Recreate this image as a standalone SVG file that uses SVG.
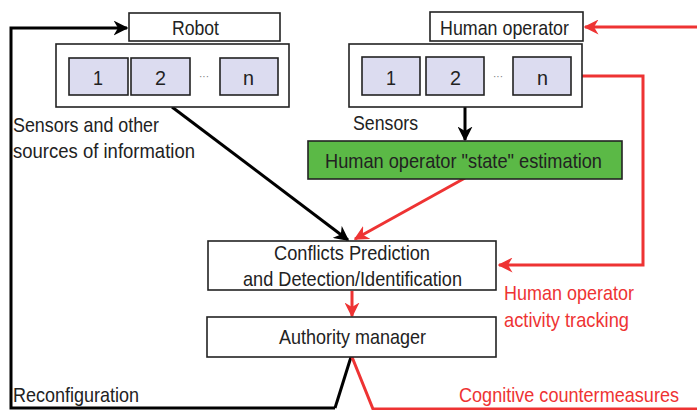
<svg xmlns="http://www.w3.org/2000/svg" width="697" height="410" viewBox="0 0 697 410">
<style>
text{font-family:"Liberation Sans",Arial,sans-serif;font-size:21px;fill:#222}
.red{fill:#ee3333}
.box{fill:#fff;stroke:#222;stroke-width:1.6}
.cell{fill:#dcdcf0;stroke:#222;stroke-width:1.6}
.k{fill:none;stroke:#000;stroke-width:3}
.r{fill:none;stroke:#ee3333;stroke-width:3}
.dots{font-size:10px;fill:#777}
</style>
<defs>
<marker id="ak" viewBox="0 0 10 10" refX="9" refY="5" markerWidth="5" markerHeight="5" orient="auto" markerUnits="strokeWidth"><path d="M0,0L10,5L0,10L3,5Z" fill="#000"/></marker>
<marker id="ar" viewBox="0 0 10 10" refX="9" refY="5" markerWidth="5" markerHeight="5" orient="auto" markerUnits="strokeWidth"><path d="M0,0L10,5L0,10L3,5Z" fill="#ee3333"/></marker>
</defs>
<g id="connectors">
<polyline class="k" points="335,408 11,408 11,28 127,28" marker-end="url(#ak)"/>
<line class="k" x1="351" y1="357" x2="335" y2="408"/>
<line class="k" x1="172" y1="107" x2="348" y2="240" marker-end="url(#ak)"/>
<line class="k" x1="465" y1="107" x2="465" y2="140" marker-end="url(#ak)"/>
<line class="r" x1="465" y1="178" x2="355" y2="239" marker-end="url(#ar)"/>
<line class="r" x1="352" y1="291" x2="352" y2="316" marker-end="url(#ar)"/>
<line class="r" x1="697" y1="27" x2="585" y2="27" marker-end="url(#ar)"/>
<polyline class="r" points="571,76 643,76 643,265 499,265" marker-end="url(#ar)"/>
<polyline class="r" points="352,357 373,409 697,409"/>
</g>
<g id="robot">
<rect class="box" x="129" y="13" width="151" height="28"/>
<text x="172" y="35" textLength="47" lengthAdjust="spacingAndGlyphs">Robot</text>
</g>
<g id="robot-sensors">
<rect class="box" x="56" y="44" width="233" height="63"/>
<rect class="cell" x="69" y="58" width="59" height="37"/>
<rect class="cell" x="131" y="58" width="59" height="37"/>
<rect class="cell" x="220" y="58" width="58" height="37"/>
<text x="93" y="85" textLength="10" lengthAdjust="spacingAndGlyphs">1</text>
<text x="155" y="85" textLength="11" lengthAdjust="spacingAndGlyphs">2</text>
<text x="243" y="85" textLength="11" lengthAdjust="spacingAndGlyphs">n</text>
<text class="dots" x="204" y="80" text-anchor="middle">···</text>
<text x="13" y="132" textLength="146" lengthAdjust="spacingAndGlyphs">Sensors and other</text>
<text x="13" y="158" textLength="182" lengthAdjust="spacingAndGlyphs">sources of information</text>
</g>
<g id="human">
<rect class="box" x="430" y="12" width="153" height="29"/>
<text x="440" y="35" textLength="129" lengthAdjust="spacingAndGlyphs">Human operator</text>
</g>
<g id="human-sensors">
<rect class="box" x="349" y="44" width="233" height="63"/>
<rect class="cell" x="362" y="57" width="58" height="38"/>
<rect class="cell" x="426" y="57" width="58" height="38"/>
<rect class="cell" x="513" y="57" width="58" height="38"/>
<text x="386" y="85" textLength="10" lengthAdjust="spacingAndGlyphs">1</text>
<text x="450" y="85" textLength="11" lengthAdjust="spacingAndGlyphs">2</text>
<text x="537" y="85" textLength="11" lengthAdjust="spacingAndGlyphs">n</text>
<text class="dots" x="498" y="80" text-anchor="middle">···</text>
<text x="353" y="130" textLength="65" lengthAdjust="spacingAndGlyphs">Sensors</text>
</g>
<g id="state-estimation">
<rect x="308" y="141" width="314" height="38" fill="#5bb946" stroke="#222" stroke-width="1.6"/>
<text x="325" y="168" textLength="277" lengthAdjust="spacingAndGlyphs">Human operator "state" estimation</text>
</g>
<g id="conflicts">
<rect class="box" x="208" y="241" width="288" height="49"/>
<text x="274" y="260" textLength="156" lengthAdjust="spacingAndGlyphs">Conflicts Prediction</text>
<text x="243" y="286" textLength="219" lengthAdjust="spacingAndGlyphs">and Detection/Identification</text>
</g>
<g id="authority">
<rect class="box" x="207" y="317" width="289" height="40"/>
<text x="279" y="344" textLength="147" lengthAdjust="spacingAndGlyphs">Authority manager</text>
</g>
<g id="labels">
<text class="red" x="504" y="300" textLength="130" lengthAdjust="spacingAndGlyphs">Human operator</text>
<text class="red" x="504" y="327" textLength="125" lengthAdjust="spacingAndGlyphs">activity tracking</text>
<text class="red" x="459" y="402" textLength="220" lengthAdjust="spacingAndGlyphs">Cognitive countermeasures</text>
<text x="13" y="402" textLength="126" lengthAdjust="spacingAndGlyphs">Reconfiguration</text>
</g>
</svg>
